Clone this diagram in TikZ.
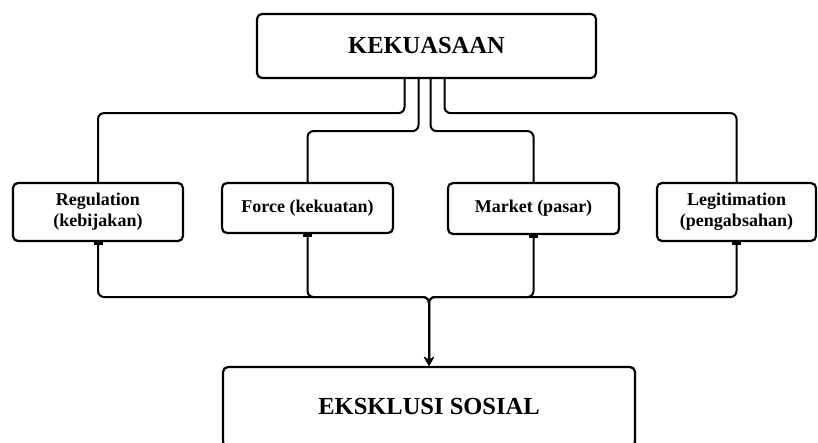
\documentclass[tikz,border=0pt]{standalone}
\usepackage{fontspec}
\setmainfont{Liberation Serif}
\usetikzlibrary{arrows.meta}
\begin{document}
\begin{tikzpicture}[x=1pt,y=-1pt,
  box/.style={draw, line width=2.2pt, rounded corners=5pt, align=center, inner sep=0pt, font=\bfseries\fontsize{18}{21}\selectfont},
  bigbox/.style={box, font=\bfseries\fontsize{24.5}{28}\selectfont},
  conn/.style={line width=2pt, rounded corners=6pt},
  tee/.style={conn, {Bar[width=9pt,line width=3pt]}-{Stealth[length=9pt,width=10pt]}}
]
\clip (0,0) rectangle (818,442);
\fill[white] (0,0) rectangle (818,442);
\node[bigbox, minimum width=339pt, minimum height=64pt] (top) at (426.5,46) {KEKUASAAN};
\node[box, minimum width=170pt, minimum height=58pt] (reg) at (98,212) {Regulation\\(kebijakan)};
\node[box, minimum width=171pt, minimum height=50pt] (force) at (307.5,208) {Force (kekuatan)};
\node[box, minimum width=171pt, minimum height=51pt] (market) at (533.5,208.5) {Market (pasar)};
\node[box, minimum width=159pt, minimum height=58pt] (legit) at (736.5,212) {Legitimation\\(pengabsahan)};
\node[bigbox, minimum width=412pt, minimum height=80pt] (excl) at (429,407) {EKSKLUSI SOSIAL};
\coordinate (J) at (429,297);
% from top box
\draw[conn] ([xshift=-22pt]top.south) -- ++(0,34) -| (reg.north);
\draw[conn] ([xshift=-8pt]top.south) -- ++(0,52) -| (force.north);
\draw[conn] ([xshift=4pt]top.south) -- ++(0,52) -| (market.north);
\draw[conn] ([xshift=18pt]top.south) -- ++(0,34) -| (legit.north);
% to bottom box
\draw[tee] (reg.south) |- (J) -- (excl.north);
\draw[tee] (force.south) |- (J) -- (excl.north);
\draw[tee] (market.south) |- (J) -- (excl.north);
\draw[tee] (legit.south) |- (J) -- (excl.north);
\end{tikzpicture}
\end{document}
